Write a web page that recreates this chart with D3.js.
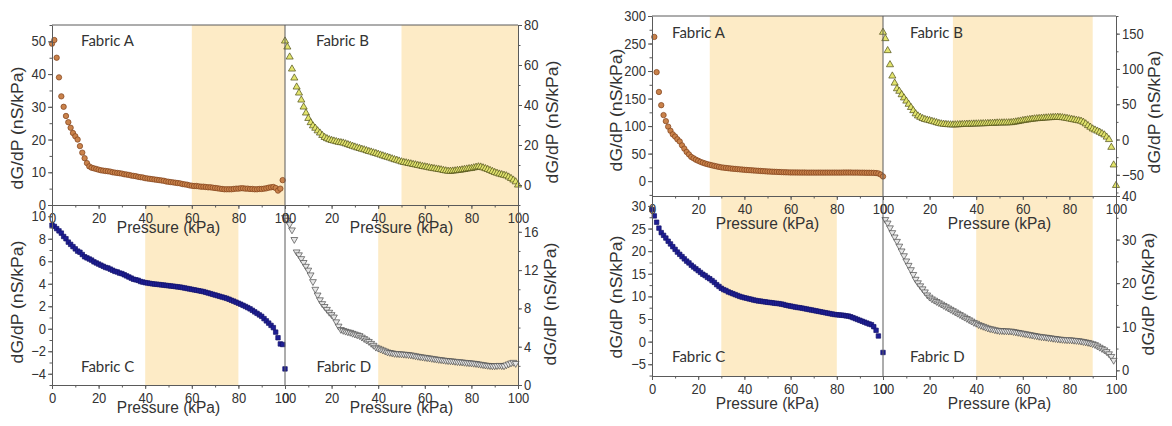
<!DOCTYPE html>
<html lang="en">
<head>
<meta charset="UTF-8">
<title>dG/dP vs Pressure, Fabrics A-D</title>
<script src="https://d3js.org/d3.v7.min.js"></script>
<style>
    body{ margin:0; background:#fff; }
    svg{ display:block; }
    .tick text{ font-family:"Liberation Sans", Arial, sans-serif; font-size:13px; fill:#333; }
    .axis{ color:#5a5a5a; }
</style>
</head>
<body>
<svg id="canvas" width="1172" height="426"></svg>
<script>
// ---- data ----
const pressure = [0,1,2,3,4,5,6,7,8,9,10,11,12,13,14,15,16,17,18,19,20,21,22,23,24,25,26,27,28,29,
    30,31,32,33,34,35,36,37,38,39,40,41,42,43,44,45,46,47,48,49,50,51,52,53,54,55,56,57,58,59,
    60,61,62,63,64,65,66,67,68,69,70,71,72,73,74,75,76,77,78,79,80,81,82,83,84,85,86,87,88,89,
    90,91,92,93,94,95,96,97,98,99,100];

// left figure
const leftA = [49.3,50.4,45.0,39.0,33.2,30.0,27.2,25.3,23.6,22.0,
    21.0,20.0,18.0,16.0,14.3,12.8,11.8,11.4,11.2,11.0,
    10.8,10.6,10.5,10.4,10.3,10.2,10.0,9.9,9.8,9.7,
    9.6,9.4,9.3,9.2,9.0,8.9,8.8,8.6,8.5,8.4,
    8.2,8.1,8.0,7.9,7.8,7.7,7.6,7.5,7.4,7.2,
    7.1,7.0,6.9,6.8,6.7,6.6,6.4,6.3,6.2,6.0,
    5.9,5.8,5.8,5.7,5.6,5.6,5.5,5.4,5.4,5.3,
    5.2,5.1,5.0,4.9,4.8,4.8,4.8,4.8,4.9,5.0,
    5.0,5.1,5.1,5.0,5.0,4.9,4.9,4.8,4.8,4.9,
    4.9,5.0,5.1,5.3,5.4,5.5,5.2,4.4,5.0,7.6,
    null];
const leftB = [72.0,69.0,64.0,58.0,53.5,49.0,46.0,42.5,39.0,36.0,
    33.3,31.2,29.6,28.4,27.1,26.0,24.8,23.8,23.2,22.7,
    22.3,22.0,21.7,21.4,21.2,21.0,20.6,20.2,19.8,19.4,
    19.0,18.6,18.3,17.9,17.6,17.2,16.8,16.5,16.1,15.8,
    15.4,15.0,14.6,14.2,13.9,13.5,13.1,12.7,12.4,12.0,
    11.6,11.3,11.1,10.8,10.6,10.3,10.1,9.8,9.6,9.3,
    9.1,8.9,8.6,8.4,8.2,8.0,7.8,7.6,7.3,7.1,
    6.9,6.9,7.0,7.1,7.3,7.4,7.6,7.8,8.0,8.2,
    8.3,8.6,8.9,9.1,9.0,8.6,8.2,7.8,7.3,6.8,
    6.3,5.9,5.5,5.2,4.9,4.6,4.0,3.3,2.5,1.6,
    0.0];
const leftC = [9.2,9.1,8.9,8.7,8.5,8.2,8.0,7.7,7.5,7.3,
    7.1,6.9,6.8,6.6,6.4,6.3,6.2,6.1,5.95,5.85,
    5.75,5.65,5.55,5.45,5.4,5.3,5.2,5.1,5.05,4.95,
    4.9,4.8,4.7,4.6,4.5,4.4,4.35,4.3,4.2,4.15,
    4.1,4.07,4.03,4.0,3.97,3.95,3.93,3.9,3.88,3.85,
    3.83,3.8,3.78,3.75,3.72,3.7,3.66,3.62,3.58,3.54,
    3.5,3.46,3.42,3.38,3.34,3.3,3.24,3.18,3.12,3.06,
    3.0,2.94,2.88,2.82,2.76,2.7,2.62,2.53,2.45,2.36,
    2.27,2.18,2.08,1.98,1.88,1.77,1.64,1.5,1.37,1.23,
    1.1,0.9,0.7,0.5,0.3,0.1,-0.3,-0.8,-1.35,-1.4,
    -3.57];
const leftD = [17.5,17.2,16.8,16.2,15.2,13.9,13.6,13.2,12.8,12.4,
    12.0,11.5,10.8,10.0,9.4,8.9,8.5,8.2,7.9,7.6,
    7.35,7.1,6.6,6.15,5.8,5.7,5.62,5.55,5.5,5.4,
    5.32,5.24,5.16,5.0,4.85,4.7,4.55,4.35,4.15,3.95,
    3.85,3.75,3.65,3.55,3.45,3.4,3.35,3.3,3.28,3.26,
    3.24,3.22,3.2,3.17,3.14,3.1,3.05,3.0,2.96,2.92,
    2.89,2.85,2.82,2.78,2.74,2.7,2.67,2.64,2.6,2.57,
    2.54,2.52,2.5,2.47,2.44,2.42,2.4,2.37,2.34,2.32,
    2.3,2.27,2.24,2.2,2.16,2.12,2.08,2.05,2.02,2.0,
    2.0,2.02,2.05,2.02,2.0,2.1,2.2,2.3,2.37,2.25,
    null];

// right figure
const rightA = [null,262,198,162,138,120,109,99,91.5,85,
    81,76,72,65,59,53,48.5,44,41.5,39,
    37,35,33.5,32,30.8,29.7,28.7,27.7,26.8,25.9,
    25,24.5,24,23.5,23,22.6,22.2,21.8,21.4,21,
    20.6,20.3,20,19.7,19.4,19.1,18.8,18.5,18.2,17.9,
    17.6,17.4,17.2,17,16.8,16.6,16.4,16.2,16,15.9,
    15.8,15.8,15.7,15.7,15.6,15.6,15.6,15.5,15.5,15.5,
    15.5,15.5,15.5,15.5,15.5,15.5,15.5,15.5,15.5,15.5,
    15.5,15.5,15.5,15.6,15.6,15.6,15.6,15.5,15.5,15.5,
    15.4,15.4,15.3,15.2,15.2,15.1,15,14.7,14,12,
    8.5];
const rightB = [152,143,126,106,90,80,72,68.4,63.5,59,
    54.5,50,45.5,41,36.5,33.5,31.5,29.8,28.5,27.6,
    26.9,25.9,25,24,23,22.2,21.8,21.4,21.1,20.9,
    20.8,20.9,21,21.2,21.4,21.6,21.8,21.9,22,22.1,
    22.2,22.3,22.4,22.5,22.6,22.8,22.9,23.1,23.3,23.5,
    23.6,23.6,23.7,23.7,23.8,24,24.5,25,25.6,26.2,
    26.9,27.4,27.9,28.4,28.9,29.3,29.6,29.9,30.2,30.5,
    30.7,30.9,31.1,31.3,31.5,31.6,31.4,31,30.5,30,
    29.3,28.6,28,27.3,26.7,26,24.5,22.3,19.8,17.5,
    15.1,13.5,12,10.4,8.5,6.6,3.5,0,-11,-36,
    -65];
const rightC = [29.2,27.8,26.4,25.1,24.1,23.5,22.9,22.2,21.6,21,
    20.4,19.8,19.3,18.8,18.3,17.8,17.4,16.9,16.5,16.1,
    15.7,15.3,14.9,14.6,14.2,13.9,13.5,13.1,12.6,12.2,
    11.8,11.5,11.3,11,10.8,10.6,10.4,10.2,10,9.85,
    9.7,9.6,9.45,9.35,9.2,9.1,9,8.95,8.85,8.8,
    8.7,8.65,8.6,8.5,8.45,8.4,8.3,8.2,8.05,7.95,
    7.85,7.75,7.65,7.55,7.5,7.4,7.3,7.2,7.1,7,
    6.9,6.8,6.7,6.6,6.5,6.4,6.3,6.2,6.1,6,
    5.95,5.9,5.85,5.8,5.7,5.65,5.5,5.3,5.1,4.9,
    4.7,4.5,4.3,4.1,3.9,3.75,3.3,2.5,1.25,null,
    -2.4];
const rightD = [null,34.6,33.8,32.7,31.6,30.6,29.6,28.5,27.4,26.3,
    25.1,24.1,23.1,22,20.9,20.1,19.4,18.7,18,17.3,
    16.8,16.4,16.1,15.8,15.5,15.2,14.9,14.6,14.3,14,
    13.7,13.4,13.1,12.8,12.5,12.2,11.9,11.6,11.3,11,
    10.8,10.5,10.3,10.1,9.9,9.7,9.55,9.45,9.3,9.2,
    9.1,9.1,9.05,9.05,9,9,8.9,8.8,8.7,8.6,
    8.5,8.4,8.3,8.2,8.1,8,7.9,7.8,7.7,7.65,
    7.6,7.5,7.45,7.35,7.3,7.2,7.15,7.1,7.05,7,
    7,6.95,6.9,6.85,6.8,6.7,6.6,6.5,6.4,6.25,
    6.1,5.9,5.6,5.3,5,4.7,4.3,3.8,3.2,2.3,
    null];

// tick labels
const pressureTicks = [0,20,40,60,80,100];
const leftATicks = [0,10,20,30,40,50];
const leftBTicks = [0,20,40,60,80];
const leftCTicks = [-4,-2,0,2,4,6,8,10];
const leftDTicks = [0,4,8,12,16];
const rightATicks = [0,50,100,150,200,250,300];
const rightBTicks = [-50,0,50,100,150];
const rightCTicks = [-5,0,5,10,15,20,25,30];
const rightDTicks = [0,10,20,30,40];

// shaded pressure ranges
const bands = {lA:[60,100], lB:[50,100], lC:[40,80], lD:[40,100],
               rA:[25,100], rB:[30,90], rC:[30,80], rD:[40,90]};

// ---- styles ----
const markerA = {type:d3.symbolCircle,   size:23, fill:"#c9824b", stroke:"#7e3f18", rot:0};
const markerB = {type:d3.symbolTriangle, size:22, fill:"#e2e46e", stroke:"#4d4e16", rot:0};
const markerC = {type:d3.symbolSquare,   size:20, fill:"#1e1e94", stroke:"#14146a", rot:0};
const markerD = {type:d3.symbolTriangle, size:20, fill:"#e6e6e6", stroke:"#4a4a4a", rot:180};
const bandColor = "#fdebc6";
const lineColor = "#5a5a5a";
const textFont = '"Liberation Sans", Arial, sans-serif';
const stretch = 1.1;   // the source picture is a bit taller than wide

// two figures, each a 2x2 block of panels
const figures = [
    {x0:52,  xm:285, x1:518,  y0:25, ym:205, y1:385, titleGap:28},
    {x0:652, xm:883, x1:1116, y0:16, ym:196, y1:376, titleGap:32.5}
];

const panels = [
    {fig:0,row:0,col:0,name:"Fabric A",values:leftA,yDomain:[0,55],   yTicks:leftATicks,minor:5, band:bands.lA,marker:markerA,nameAt:[29,21], labX:23,  labY:128},
    {fig:0,row:0,col:1,name:"Fabric B",values:leftB,yDomain:[-10,80], yTicks:leftBTicks,minor:10,band:bands.lB,marker:markerB,nameAt:[31,21], labX:558, labY:122},
    {fig:0,row:1,col:0,name:"Fabric C",values:leftC,yDomain:[-5,11],  yTicks:leftCTicks,minor:1, band:bands.lC,marker:markerC,nameAt:[29,167],labX:23,  labY:302},
    {fig:0,row:1,col:1,name:"Fabric D",values:leftD,yDomain:[0,18.8], yTicks:leftDTicks,minor:2, band:bands.lD,marker:markerD,nameAt:[31.5,167],labX:556,labY:304},
    {fig:1,row:0,col:0,name:"Fabric A",values:rightA,yDomain:[-27,300],yTicks:rightATicks,minor:25,band:bands.rA,marker:markerA,nameAt:[20,22], labX:622, labY:110},
    {fig:1,row:0,col:1,name:"Fabric B",values:rightB,yDomain:[-80,175],yTicks:rightBTicks,minor:25,band:bands.rB,marker:markerB,nameAt:[27,22], labX:1160,labY:112},
    {fig:1,row:1,col:0,name:"Fabric C",values:rightC,yDomain:[-7.6,32.2],yTicks:rightCTicks,minor:2.5,band:bands.rC,marker:markerC,nameAt:[20,166],labX:622, labY:297},
    {fig:1,row:1,col:1,name:"Fabric D",values:rightD,yDomain:[-1.3,40],yTicks:rightDTicks,minor:5,band:bands.rD,marker:markerD,nameAt:[27,166], labX:1154,labY:294}
];

const svg = d3.select("#canvas");
const gBands = svg.append("g");
const gData = svg.append("g");
const gAxes = svg.append("g");
const gText = svg.append("g");

function minorValues(domain, step){
    const lo = Math.ceil(domain[0]/step)*step;
    return d3.range(lo, domain[1] + 1e-9, step);
}

panels.forEach(p => {
    const f = figures[p.fig];
    const xa = p.col === 0 ? f.x0 : f.xm;
    const xb = p.col === 0 ? f.xm : f.x1;
    const ya = p.row === 0 ? f.y0 : f.ym;
    const yb = p.row === 0 ? f.ym : f.y1;

    const x = d3.scaleLinear().domain([0,100]).range([xa, xb]);
    const y = d3.scaleLinear().domain(p.yDomain).range([yb, ya]);

    // shaded region
    gBands.append("rect")
        .attr("x", x(p.band[0])).attr("y", ya)
        .attr("width", x(p.band[1]) - x(p.band[0]))
        .attr("height", yb - ya)
        .attr("fill", bandColor);

    // markers
    const pts = pressure.map((px,i) => ({p:px, v:p.values[i]})).filter(d => d.v !== null);
    const sym = d3.symbol().type(p.marker.type).size(p.marker.size);
    gData.append("g").selectAll("path")
        .data(pts)
        .enter().append("path")
        .attr("d", sym)
        .attr("transform", d => `translate(${x(d.p)},${y(d.v)}) rotate(${p.marker.rot})`)
        .attr("fill", p.marker.fill)
        .attr("stroke", p.marker.stroke)
        .attr("stroke-width", 0.7);

    // x axis (bottom of each panel)
    const gx = gAxes.append("g").attr("class","axis").attr("transform", `translate(0,${yb})`);
    gx.call(d3.axisBottom(x).tickValues(pressureTicks).tickSize(4).tickSizeOuter(0).tickPadding(3));
    gx.append("g").call(d3.axisBottom(x).tickValues(minorValues([0,100],10)).tickSize(2.5).tickFormat(""))
        .select(".domain").remove();

    // y axis: left for column 0, right for column 1
    const right = p.col === 1;
    const ax = right ? d3.axisRight(y) : d3.axisLeft(y);
    const axm = right ? d3.axisRight(y) : d3.axisLeft(y);
    const gy = gAxes.append("g").attr("class","axis").attr("transform", `translate(${right ? xb : xa},0)`);
    gy.call(ax.tickValues(p.yTicks).tickSize(4).tickSizeOuter(0).tickPadding(2));
    gy.append("g").call(axm.tickValues(minorValues(p.yDomain, p.minor)).tickSize(2.5).tickFormat(""))
        .select(".domain").remove();

    // slightly taller tick labels, like the source
    gx.selectAll(".tick text").attr("transform", `scale(1,${stretch})`);
    gy.selectAll(".tick text").attr("transform", `scale(1,${stretch})`);

    // x axis title
    gText.append("text")
        .attr("transform", `translate(${(xa+xb)/2},${yb + f.titleGap}) scale(1,${stretch})`)
        .attr("text-anchor","middle")
        .attr("font-family", textFont).attr("font-size", 15.5).attr("fill","#333")
        .text("Pressure (kPa)");

    // y axis title
    gText.append("text")
        .attr("transform", `translate(${p.labX},${p.labY}) scale(1,${stretch}) rotate(-90)`)
        .attr("text-anchor","middle")
        .attr("font-family", textFont).attr("font-size", 16).attr("fill","#333")
        .text("dG/dP (nS/kPa)");

    // fabric name
    gText.append("text")
        .attr("x", xa + p.nameAt[0]).attr("y", ya + p.nameAt[1])
        .attr("font-family", 'Lato, "Open Sans", sans-serif').attr("font-size", 15).attr("fill","#333")
        .text(p.name);
});

// frame lines: top edge and the vertical divider of each figure
figures.forEach(f => {
    gAxes.append("line").attr("x1", f.x0).attr("x2", f.x1).attr("y1", f.y0).attr("y2", f.y0)
        .attr("stroke", lineColor);
    gAxes.append("line").attr("x1", f.xm).attr("x2", f.xm).attr("y1", f.y0).attr("y2", f.y1)
        .attr("stroke", lineColor);
});
</script>
</body>
</html>
